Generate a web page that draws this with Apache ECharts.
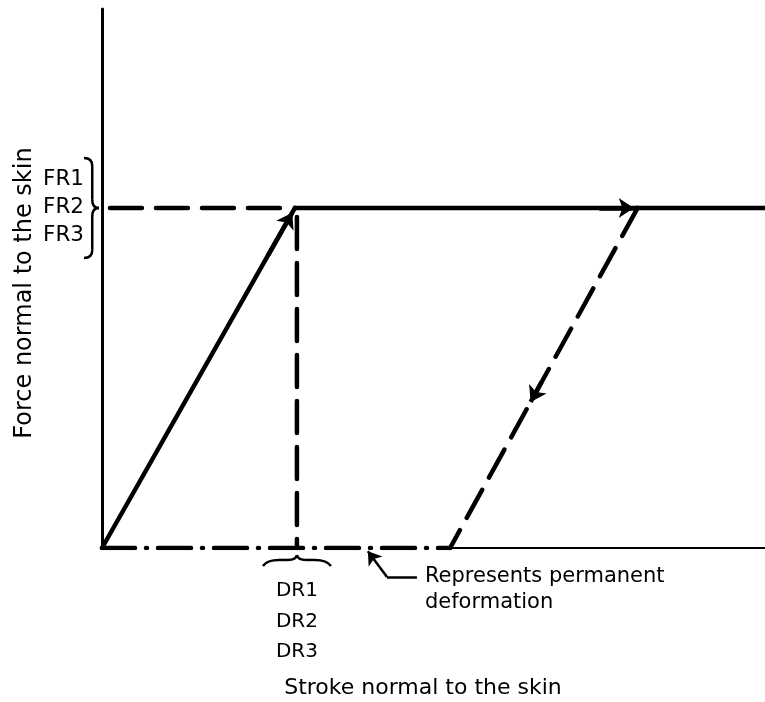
<!DOCTYPE html>
<html>
<head>
<meta charset="utf-8">
<script src="https://cdn.jsdelivr.net/npm/echarts@6/dist/echarts.min.js"></script>
<style>
  html, body { margin: 0; padding: 0; background: #fff; }
  #container { width: 765px; height: 702px; }
</style>
</head>
<body>
<div id="container"></div>
<script>
// 値 (横: ストローク, 縦: 力) 0-100 の相対値
var loadingPath = [[0, 0], [29.1, 63.1]];
var plateauPath = [[29.1, 63.1], [100, 63.1]];
var forceGuide = [[1.2, 63.1], [27.6, 63.1]];
var strokeGuide = [[29.4, 61.4], [29.4, 0]];
var unloadingPath = [[80.8, 63.1], [52.5, 0]];
var permanentPath = [[0, 0], [52.5, 0]];
var restOfAxis = [[52.5, 0], [100, 0]];

// 矢印 (線上の短い区間, 終点に矢じり)
var arrowSegments = [
    [[25, 54.2], [28.7, 62.2]],
    [[75, 63.1], [80.2, 63.1]],
    [[66.3, 30.8], [64.65, 27.1]]
];
var noteLeader = [[47.5, -5.38], [42.99, -5.38]];
var noteArrow = [[42.99, -5.38], [40.1, -0.6]];

var forceTicks = [63.1];
var strokeTicks = [29.4];
var forceLabels = ['FR1', 'FR2', 'FR3'];
var strokeLabels = ['DR1', 'DR2', 'DR3'];

var font = 'DejaVu Sans';
var ink = '#000';

var dom = document.getElementById('container');
var myChart = echarts.init(dom);

function lineSeries(data, width, dash) {
    return {
        type: 'line',
        data: data,
        symbol: 'none',
        silent: true,
        animation: false,
        lineStyle: {
            color: ink,
            width: width,
            type: dash || 'solid',
            cap: 'round'
        },
        z: 3
    };
}

var option = {
    animation: false,
    grid: {
        left: 102,
        right: 0,
        top: 9,
        bottom: 154
    },
    xAxis: {
        type: 'value',
        min: 0,
        max: 100,
        axisLine: { show: false },
        axisTick: { show: false },
        splitLine: { show: false },
        axisLabel: {
            customValues: strokeTicks,
            formatter: function () { return strokeLabels.join('\n'); },
            color: ink,
            fontFamily: font,
            fontSize: 20,
            lineHeight: 30.5,
            margin: 28
        }
    },
    yAxis: {
        type: 'value',
        min: 0,
        max: 100,
        axisLine: { show: true, lineStyle: { color: ink, width: 3 } },
        axisTick: { show: false },
        splitLine: { show: false },
        axisLabel: {
            customValues: forceTicks,
            formatter: function () { return forceLabels.join('\n'); },
            color: ink,
            fontFamily: font,
            fontSize: 21.5,
            lineHeight: 28,
            margin: 18
        }
    },
    series: [
        lineSeries(loadingPath, 4.5),
        lineSeries(plateauPath, 4.5),
        lineSeries(forceGuide, 4.5, [32, 14]),
        lineSeries(strokeGuide, 4.5, [32, 14]),
        lineSeries(unloadingPath, 4.5, [32, 14]),
        lineSeries(permanentPath, 4.5, [33, 11, 1, 11]),
        lineSeries(restOfAxis, 2),
        {
            type: 'lines',
            coordinateSystem: 'cartesian2d',
            clip: false,
            silent: true,
            symbol: ['none', 'arrow'],
            symbolSize: 15,
            lineStyle: { color: ink, width: 4.5, opacity: 1 },
            data: arrowSegments.map(function (c) { return { coords: c }; }),
            z: 4
        },
        {
            type: 'lines',
            coordinateSystem: 'cartesian2d',
            clip: false,
            silent: true,
            symbol: ['none', 'none'],
            lineStyle: { color: ink, width: 2.5, opacity: 1 },
            data: [{ coords: noteLeader }],
            z: 4
        },
        {
            type: 'lines',
            coordinateSystem: 'cartesian2d',
            clip: false,
            silent: true,
            symbol: ['none', 'arrow'],
            symbolSize: 13,
            lineStyle: { color: ink, width: 2.5, opacity: 1 },
            data: [{ coords: noteArrow }],
            z: 4
        }
    ]
};

myChart.setOption(option);

// 括弧と文字 (座標は軸から計算)
var fr = myChart.convertToPixel({ gridIndex: 0 }, [0, forceTicks[0]]);
var dr = myChart.convertToPixel({ gridIndex: 0 }, [strokeTicks[0], 0]);
var note = myChart.convertToPixel({ gridIndex: 0 }, noteLeader[0]);

var braceStyle = { stroke: ink, lineWidth: 2.5, fill: 'none' };

function curve(x1, y1, cx, cy, x2, y2) {
    return {
        type: 'bezierCurve',
        shape: { x1: x1, y1: y1, cpx1: cx, cpy1: cy, x2: x2, y2: y2 },
        style: braceStyle,
        silent: true
    };
}

function straight(x1, y1, x2, y2) {
    return {
        type: 'line',
        shape: { x1: x1, y1: y1, x2: x2, y2: y2 },
        style: braceStyle,
        silent: true
    };
}

// 右向きの括弧 }
function vBrace(tx, cy, h, w) {
    var top = cy - h / 2, bot = cy + h / 2;
    var xl = tx - w, xm = tx - w * 0.45, r = 8;
    return [
        curve(xl, top, xm, top, xm, top + r),
        straight(xm, top + r, xm, cy - r),
        curve(xm, cy - r, xm, cy, tx, cy),
        curve(tx, cy, xm, cy, xm, cy + r),
        straight(xm, cy + r, xm, bot - r),
        curve(xm, bot - r, xm, bot, xl, bot)
    ];
}

// 上向きの括弧
function hBrace(cx, ty, w, h) {
    var l = cx - w / 2, rr = cx + w / 2;
    var yb = ty + h, ym = ty + h * 0.45;
    return [
        curve(l, yb, l + 4, ym, l + 16, ym),
        straight(l + 16, ym, cx - 9, ym),
        curve(cx - 9, ym, cx - 1, ym, cx, ty),
        curve(cx, ty, cx + 1, ym, cx + 9, ym),
        straight(cx + 9, ym, rr - 16, ym),
        curve(rr - 16, ym, rr - 4, ym, rr, yb)
    ];
}

var texts = [
    {
        type: 'text',
        x: note[0] + 8,
        y: note[1] - 13,
        style: {
            text: 'Represents permanent\ndeformation',
            fill: ink,
            font: '21px "' + font + '"',
            lineHeight: 26,
            verticalAlign: 'top'
        },
        silent: true
    },
    {
        type: 'text',
        x: 423,
        y: 688,
        style: {
            text: 'Stroke normal to the skin',
            fill: ink,
            font: '22px "' + font + '"',
            align: 'center',
            verticalAlign: 'middle'
        },
        silent: true
    },
    {
        type: 'text',
        x: 25,
        y: 293,
        rotation: Math.PI / 2,
        style: {
            text: 'Force normal to the skin',
            fill: ink,
            font: '24px "' + font + '"',
            align: 'center',
            verticalAlign: 'middle'
        },
        silent: true
    }
];

myChart.setOption({
    graphic: vBrace(fr[0] - 3, fr[1], 100, 15)
        .concat(hBrace(dr[0], dr[1] + 7, 68, 11))
        .concat(texts)
});
</script>
</body>
</html>
